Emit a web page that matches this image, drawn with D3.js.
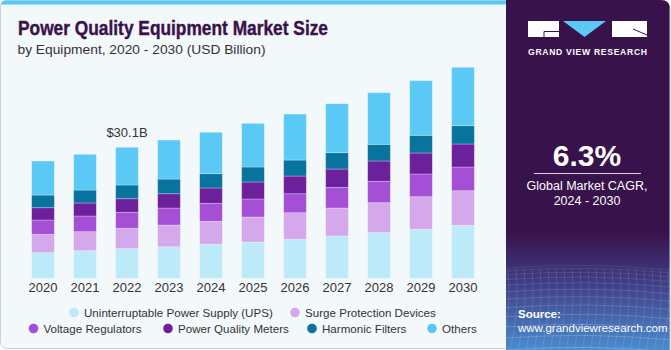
<!DOCTYPE html>
<html>
<head>
<meta charset="utf-8">
<script src="https://cdn.jsdelivr.net/npm/d3@7"></script>
<style>
  html, body { margin: 0; padding: 0; background: #ffffff; }
  svg { display: block; font-family: "Liberation Sans", Arial, sans-serif; }
</style>
</head>
<body>
<div id="chart"></div>
<script>
// data (USD billion)
const years = ["2020", "2021", "2022", "2023", "2024", "2025", "2026", "2027", "2028", "2029", "2030"];
const segments = ["Uninterruptable Power Supply (UPS)", "Surge Protection Devices", "Voltage Regulators",
                  "Power Quality Meters", "Harmonic Filters", "Others"];
const ups      = [5.92, 6.38, 6.84, 7.29, 7.85, 8.37, 8.99, 9.75, 10.51, 11.29, 12.20];
const surge    = [4.22, 4.36, 4.68, 4.98, 5.28, 5.74, 6.10, 6.42, 6.88, 7.48, 7.94];
const voltage  = [3.28, 3.60, 3.67, 3.90, 4.13, 4.13, 4.36, 4.75, 4.91, 5.21, 5.44];
const meters   = [2.82, 2.98, 3.12, 3.28, 3.51, 3.90, 4.06, 4.20, 4.66, 4.82, 5.28];
const harmonic = [2.91, 2.98, 3.14, 3.37, 3.28, 3.44, 3.67, 3.74, 3.83, 4.06, 4.20];
const others   = [7.80, 8.19, 8.65, 8.95, 9.50, 10.02, 10.55, 11.24, 11.84, 12.53, 13.40];
const colors = ["#bdeaf9", "#d5a8ec", "#a44fd6", "#6c209c", "#08749d", "#5bc9f6"];
const callout = { year: "2022", label: "$30.1B" };

const W = 671, H = 350;
const svg = d3.select("#chart").append("svg").attr("width", W).attr("height", H);
const defs = svg.append("defs");

// left panel
svg.append("rect").attr("x", 0.5).attr("y", 0.5).attr("width", 515).attr("height", 348)
  .attr("rx", 6).attr("fill", "#f3f8fb").attr("stroke", "#cfd3d6");
svg.append("path").attr("d", "M0.5,6 Q0.5,0.5 6,0.5 L515,0.5 L515,4.5 L0.5,4.5 Z").attr("fill", "#5bc9f6");

// right panel
const grad = defs.append("linearGradient").attr("id", "rg").attr("x1", 0).attr("y1", 0).attr("x2", 0).attr("y2", 1);
grad.append("stop").attr("offset", "0%").attr("stop-color", "#38124b");
grad.append("stop").attr("offset", "66%").attr("stop-color", "#38124b");
grad.append("stop").attr("offset", "82%").attr("stop-color", "#40418a");
grad.append("stop").attr("offset", "100%").attr("stop-color", "#4a8ccf");
defs.append("clipPath").attr("id", "rc").append("path")
  .attr("d", "M506,0 L661,0 Q670,0 670,9 L670,350 L506,350 Z");
const right = svg.append("g").attr("clip-path", "url(#rc)");
right.append("rect").attr("x", 506).attr("y", 0).attr("width", 165).attr("height", H).attr("fill", "url(#rg)");
// grid texture at the bottom of the panel
const gridG = right.append("g").attr("stroke", "#ffffff").attr("stroke-width", 0.5).attr("fill", "none");
d3.range(0, 14).forEach(i => {
  const yy = 268 + i * i * 0.45 + i * 2.5;
  gridG.append("path").attr("d", `M506,${yy} Q590,${yy - 6} 671,${yy + 2}`).attr("stroke-opacity", 0.15 + i * 0.025);
});
d3.range(0, 24).forEach(i => {
  const xx = 500 + i * 8;
  gridG.append("path").attr("d", `M${xx},268 Q${xx + 4},310 ${xx - 6},350`).attr("stroke-opacity", 0.22);
});
svg.append("line").attr("x1", 670).attr("x2", 670).attr("y1", 8).attr("y2", 350).attr("stroke", "#c9c9cf");

// logo
const logo = svg.append("g");
logo.append("rect").attr("x", 528).attr("y", 21).attr("width", 31).attr("height", 16).attr("fill", "#fff");
logo.append("path").attr("d", "M544,31.5 L559,31.5 M544,31.5 L544,37").attr("stroke", "#38124b").attr("stroke-width", 1).attr("fill", "none");
logo.append("path").attr("d", "M563,21 L606,21 L584.5,37 Z").attr("fill", "#5bc9f6");
logo.append("rect").attr("x", 612).attr("y", 21).attr("width", 35).attr("height", 16).attr("fill", "#fff");
logo.append("path").attr("d", "M633,29 L647,35").attr("stroke", "#38124b").attr("stroke-width", 1);
logo.append("text").attr("x", 587.5).attr("y", 55).attr("text-anchor", "middle")
  .attr("fill", "#fff").attr("font-size", 8.6).attr("font-weight", "bold")
  .attr("textLength", 119).attr("lengthAdjust", "spacing").text("GRAND VIEW RESEARCH");

// CAGR block
svg.append("text").attr("x", 587).attr("y", 166).attr("text-anchor", "middle").attr("fill", "#fff")
  .attr("font-size", 30).attr("font-weight", "bold").text("6.3%");
svg.append("line").attr("x1", 534).attr("x2", 641).attr("y1", 173.5).attr("y2", 173.5)
  .attr("stroke", "#d8d0de").attr("stroke-width", 1);
svg.append("text").attr("x", 587).attr("y", 190).attr("text-anchor", "middle").attr("fill", "#fff")
  .attr("font-size", 12.5).text("Global Market CAGR,");
svg.append("text").attr("x", 587).attr("y", 205).attr("text-anchor", "middle").attr("fill", "#fff")
  .attr("font-size", 12.5).text("2024 - 2030");

// source
svg.append("text").attr("x", 518).attr("y", 318).attr("fill", "#fff").attr("font-size", 11.5)
  .attr("font-weight", "bold").text("Source:");
svg.append("text").attr("x", 518).attr("y", 332).attr("fill", "#fff").attr("font-size", 11.5)
  .text("www.grandviewresearch.com");

// titles
svg.append("text").attr("x", 18).attr("y", 35).attr("fill", "#3a1249").attr("font-size", 20)
  .attr("font-weight", "bold").attr("stroke", "#3a1249").attr("stroke-width", 0.4)
  .attr("textLength", 310).attr("lengthAdjust", "spacingAndGlyphs")
  .text("Power Quality Equipment Market Size");
svg.append("text").attr("x", 17.5).attr("y", 53.5).attr("fill", "#333").attr("font-size", 13)
  .attr("textLength", 248).attr("lengthAdjust", "spacingAndGlyphs")
  .text("by Equipment, 2020 - 2030 (USD Billion)");

// chart
const series = [ups, surge, voltage, meters, harmonic, others];
const rows = years.map((y, i) => {
  const r = { year: y };
  segments.forEach((s, k) => { r[s] = series[k][i]; });
  return r;
});
const stack = d3.stack().keys(segments)(rows);

const x = d3.scaleBand().domain(years).range([22, 484]).paddingInner(0.46).paddingOuter(0.23);
const y = d3.scaleLinear().domain([0, 60]).range([278.5, 17]);

const layers = svg.append("g").selectAll("g").data(stack).join("g")
  .attr("fill", (d, i) => colors[i]);
layers.selectAll("rect").data(d => d).join("rect")
  .attr("x", d => x(d.data.year))
  .attr("width", x.bandwidth())
  .attr("y", d => y(d[1]))
  .attr("height", d => y(d[0]) - y(d[1]))
  .attr("stroke", "#ffffff").attr("stroke-opacity", 0.35).attr("stroke-width", 0.8);

const xAxis = svg.append("g").attr("transform", "translate(0,279)")
  .call(d3.axisBottom(x).tickSize(0).tickPadding(4));
xAxis.select(".domain").remove();
xAxis.selectAll("text").attr("font-size", 13).attr("fill", "#333")
  .attr("font-family", "Liberation Sans, Arial, sans-serif").attr("dy", "0.72em");

const calloutTotal = d3.sum(series, s => s[years.indexOf(callout.year)]);
svg.append("text").attr("x", x(callout.year) + x.bandwidth() / 2).attr("y", y(calloutTotal) - 10)
  .attr("text-anchor", "middle").attr("font-size", 13).attr("fill", "#333").text(callout.label);

// legend
const legendRows = [
  [[0, 74], [1, 295]],
  [[2, 33.5], [3, 168], [4, 312], [5, 432]]
];
const legendY = [312.5, 328.5];
legendRows.forEach((row, r) => {
  row.forEach(([k, cx]) => {
    const g = svg.append("g");
    g.append("circle").attr("cx", cx).attr("cy", legendY[r]).attr("r", 4.8).attr("fill", colors[k]);
    g.append("text").attr("x", cx + 10).attr("y", legendY[r] + 4.3).attr("font-size", 11.6).attr("fill", "#333")
      .text(segments[k]);
  });
});
</script>
</body>
</html>
